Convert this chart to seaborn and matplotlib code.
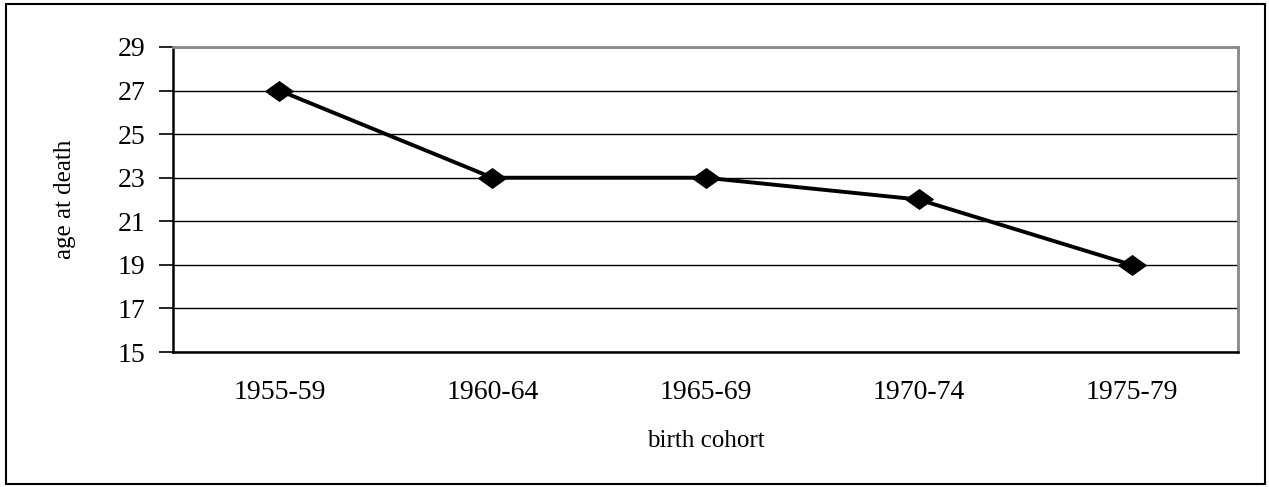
import matplotlib
matplotlib.use('Agg')
import matplotlib.pyplot as plt
import seaborn as sns
import pandas as pd
from matplotlib.patches import Rectangle

cohorts = ['1955-59', '1960-64', '1965-69', '1970-74', '1975-79']
age_at_death = [27, 23, 23, 22, 19]
y_ticks = [15, 17, 19, 21, 23, 25, 27, 29]

df = pd.DataFrame({'cohort': cohorts, 'age': age_at_death})

sns.set_style('white')
plt.rcParams['font.family'] = ['Liberation Serif', 'DejaVu Serif']
plt.rcParams['text.color'] = 'black'
plt.rcParams['axes.labelcolor'] = 'black'
plt.rcParams['xtick.color'] = 'black'
plt.rcParams['ytick.color'] = 'black'

fig = plt.figure(figsize=(12.69, 4.87), dpi=100)
ax = fig.add_axes([0.1363, 0.2772, 0.9756 - 0.1363, 0.9035 - 0.2772])

# flattened diamond like the original spreadsheet chart
diamond = [(-1.4, 0), (0, 1), (1.4, 0), (0, -1), (-1.4, 0)]
sns.lineplot(data=df, x='cohort', y='age', ax=ax, color='black', linewidth=2.8,
             marker=diamond, markersize=20, markeredgecolor='black', sort=False)

ax.set_ylim(15, 29)
ax.set_xlim(-0.5, len(cohorts) - 0.5)
ax.set_yticks(y_ticks)
ax.set_yticklabels([str(t) for t in y_ticks], fontsize=20)
ax.yaxis.grid(True, color='black', linewidth=1)
ax.set_axisbelow(True)

ax.set_xticks(range(len(cohorts)))
ax.set_xticklabels(cohorts, fontsize=20)
ax.set_xticks([i - 0.5 for i in range(len(cohorts) + 1)], minor=True)
ax.tick_params(axis='x', which='major', length=0, pad=20)
ax.tick_params(axis='x', which='minor', length=7, width=1.2, direction='out')
ax.tick_params(axis='y', length=10, width=1.2, direction='out', left=True, pad=10)

for side in ['left', 'bottom']:
    ax.spines[side].set_color('black')
    ax.spines[side].set_linewidth(1.8)
for side in ['top', 'right']:
    ax.spines[side].set_visible(True)
    ax.spines[side].set_color('#888888')
    ax.spines[side].set_linewidth(2)

ax.set_xlabel('birth cohort', fontsize=18, labelpad=18)
ax.set_ylabel('age at death', fontsize=18, labelpad=30)

# outer chart border
fig.patches.append(Rectangle((0.005, 0.006), 0.992, 0.986, transform=fig.transFigure,
                             fill=False, edgecolor='black', linewidth=1.5))

fig.savefig('out.png', dpi=100)
